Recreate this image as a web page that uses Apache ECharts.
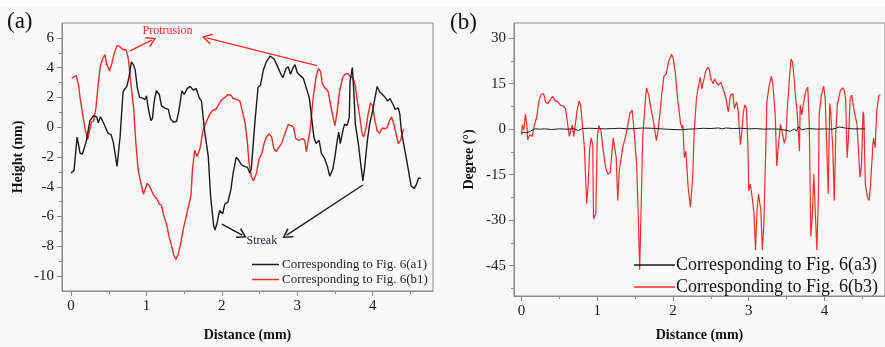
<!DOCTYPE html>
<html>
<head>
<meta charset="utf-8">
<script src="https://cdn.jsdelivr.net/npm/echarts@6/dist/echarts.min.js"></script>
<style>
  html, body { margin: 0; padding: 0; }
  body { width: 885px; height: 347px; background: linear-gradient(#ffffff 0 7px, #f8f8f8 7px); }
  #chart { width: 885px; height: 347px; }
</style>
</head>
<body>
<div id="chart"></div>
<script>
// Height profiles (distance in mm, height in nm)
const heightA1 = [
  [0.00,-3.07],[0.04,-2.9],[0.08,-0.66],[0.10,-1.2],[0.12,-1.75],[0.15,-1.8],[0.20,-1.0],[0.25,0.44],
  [0.30,0.77],[0.34,0.7],[0.36,0.3],[0.39,0.7],[0.43,0.3],[0.49,-0.4],[0.53,-0.5],[0.56,-1.0],
  [0.61,-2.63],[0.65,-0.66],[0.69,2.4],[0.74,2.74],[0.77,3.4],[0.80,4.39],[0.83,4.17],[0.85,3.85],
  [0.88,2.6],[0.91,2.0],[0.95,1.95],[0.98,1.86],[1.00,2.1],[1.03,1.1],[1.06,0.44],[1.08,0.6],
  [1.10,1.64],[1.13,2.45],[1.17,2.2],[1.20,1.43],[1.25,1.27],[1.29,1.2],[1.32,0.55],[1.36,0.33],
  [1.40,0.4],[1.43,1.1],[1.47,2.45],[1.50,2.2],[1.54,2.59],[1.58,2.74],[1.62,2.5],[1.66,2.6],
  [1.70,1.97],[1.73,1.75],[1.77,-0.22],[1.82,-1.97],[1.85,-4.6],[1.89,-6.58],[1.91,-6.9],[1.94,-6.36],
  [1.97,-5.6],[2.01,-5.81],[2.04,-5.15],[2.08,-5.04],[2.12,-4.17],[2.15,-3.07],[2.19,-2.02],[2.22,-2.19],
  [2.26,-2.52],[2.30,-2.63],[2.34,-2.7],[2.37,-3.07],[2.39,-2.8],[2.44,0.44],[2.48,2.68],[2.51,2.8],
  [2.55,3.84],[2.59,4.39],[2.64,4.78],[2.69,4.6],[2.73,4.17],[2.78,3.6],[2.81,3.33],[2.85,3.95],
  [2.88,4.06],[2.91,3.55],[2.94,3.95],[2.97,4.2],[3.00,3.68],[3.03,3.5],[3.08,3.29],[3.11,2.8],
  [3.16,1.97],[3.19,0.66],[3.22,-0.66],[3.25,-1.1],[3.29,-0.88],[3.32,-1.75],[3.36,-2.08],[3.40,-2.63],
  [3.43,-3.29],[3.47,-2.85],[3.50,-1.97],[3.53,-0.88],[3.55,-0.33],[3.57,-1.1],[3.61,-0.11],[3.63,0.22],
  [3.66,0.11],[3.69,0.66],[3.70,3.07],[3.73,4.0],[3.75,2.4],[3.77,0.22],[3.81,-1.1],[3.84,-2.4],
  [3.87,-3.6],[3.89,-2.85],[3.93,-0.88],[3.96,0.22],[4.00,1.1],[4.03,1.97],[4.06,2.74],[4.09,2.4],
  [4.13,2.2],[4.17,1.97],[4.20,1.75],[4.23,1.93],[4.27,1.53],[4.30,1.2],[4.34,1.3],[4.36,0.88],
  [4.38,-0.22],[4.41,-1.1],[4.45,-2.19],[4.48,-3.07],[4.51,-3.95],[4.55,-4.12],[4.58,-3.84],[4.61,-3.4],
  [4.64,-3.45]
];

const heightB1 = [
  [0.01,3.29],[0.04,3.4],[0.07,3.46],[0.10,2.8],[0.12,1.97],[0.16,0.66],[0.19,-0.22],[0.22,-0.83],
  [0.24,-0.33],[0.27,0.33],[0.30,0.44],[0.33,1.3],[0.36,2.85],[0.39,4.17],[0.42,4.6],[0.45,4.87],
  [0.47,4.28],[0.51,3.77],[0.54,4.28],[0.57,4.93],[0.61,5.48],[0.64,5.44],[0.67,5.3],[0.70,5.2],
  [0.73,5.2],[0.76,4.6],[0.79,3.07],[0.83,1.3],[0.86,-1.1],[0.89,-2.85],[0.92,-3.6],[0.96,-4.5],
  [0.98,-4.5],[1.01,-3.77],[1.04,-3.95],[1.07,-4.28],[1.10,-4.6],[1.14,-4.82],[1.17,-5.15],[1.20,-5.26],
  [1.23,-5.92],[1.27,-6.58],[1.30,-7.35],[1.33,-7.9],[1.36,-8.55],[1.39,-8.88],[1.42,-8.55],[1.45,-7.9],
  [1.49,-6.8],[1.52,-6.14],[1.55,-5.48],[1.59,-4.6],[1.61,-2.85],[1.64,-1.54],[1.67,-1.97],[1.71,-1.43],
  [1.75,-0.22],[1.80,0.44],[1.84,0.88],[1.88,1.14],[1.92,1.2],[1.96,1.53],[2.00,1.86],[2.04,2.0],
  [2.08,2.19],[2.12,2.15],[2.15,1.93],[2.20,1.86],[2.24,1.75],[2.27,1.1],[2.31,0.22],[2.34,-1.1],
  [2.36,-2.41],[2.39,-3.29],[2.42,-3.6],[2.46,-3.07],[2.49,-2.19],[2.53,-1.75],[2.56,-1.1],[2.59,-0.66],
  [2.63,-0.44],[2.66,-0.66],[2.69,-1.43],[2.72,-1.64],[2.76,-1.32],[2.79,-1.1],[2.82,-0.66],[2.86,-0.11],
  [2.88,0.18],[2.92,0.11],[2.95,0.0],[2.98,-0.77],[3.02,-0.88],[3.07,-0.77],[3.10,-0.88],[3.12,-1.64],
  [3.14,-1.55],[3.17,-0.22],[3.21,1.97],[3.25,3.4],[3.28,3.95],[3.31,3.73],[3.33,2.96],[3.36,2.68],
  [3.41,2.4],[3.44,1.53],[3.48,0.55],[3.50,0.11],[3.53,1.1],[3.56,2.4],[3.60,3.29],[3.63,3.55],
  [3.67,3.6],[3.70,3.4],[3.74,3.29],[3.77,2.8],[3.79,1.97],[3.83,0.66],[3.86,-0.44],[3.88,-0.66],
  [3.91,-0.11],[3.94,0.88],[3.97,1.64],[4.00,1.43],[4.03,0.44],[4.06,-0.22],[4.09,-0.4],[4.13,-0.05],
  [4.16,-0.11],[4.19,-0.05],[4.22,0.4],[4.25,0.7],[4.28,0.22],[4.31,-0.44],[4.34,-1.1],[4.37,-0.88],
  [4.39,-0.88],[4.41,-0.11]
];

// Inclination profiles (distance in mm, degree)
const degreeA3 = [
  [0.00,-1.3],[0.03,-1.0],[0.06,-1.2],[0.10,-0.9],[0.14,-0.3],[0.18,0.1],[0.25,0.0],[0.30,0.1],
  [0.40,-0.1],[0.50,0.1],[0.60,0.0],[0.70,0.1],[0.75,-0.5],[0.80,0.2],[0.90,0.3],[1.00,0.2],
  [1.10,0.1],[1.20,0.2],[1.30,0.3],[1.40,0.1],[1.50,0.2],[1.60,0.4],[1.70,0.3],[1.80,0.2],
  [1.90,0.0],[2.00,-0.1],[2.10,-0.2],[2.20,0.0],[2.30,0.1],[2.40,0.3],[2.50,0.2],[2.60,0.4],
  [2.65,0.1],[2.70,0.4],[2.80,0.2],[2.90,0.3],[3.00,0.1],[3.10,0.2],[3.20,0.0],[3.30,0.1],
  [3.40,0.0],[3.50,-0.4],[3.55,-0.7],[3.60,0.1],[3.63,-0.6],[3.66,0.8],[3.70,-0.3],[3.75,0.1],
  [3.80,0.2],[3.90,0.0],[4.00,0.1],[4.10,0.0],[4.15,0.3],[4.20,0.7],[4.25,0.5],[4.30,0.2],
  [4.40,0.1],[4.54,0.1]
];

const degreeB3 = [
  [0.00,-1.8],[0.01,1.4],[0.03,-0.2],[0.05,4.9],[0.07,1.4],[0.08,-3.5],[0.11,-1.8],[0.14,-2.4],
  [0.17,1.4],[0.20,4.1],[0.23,9.5],[0.26,11.5],[0.29,11.7],[0.32,8.8],[0.35,8.5],[0.39,10.1],
  [0.41,10.8],[0.44,9.5],[0.48,9.0],[0.51,7.9],[0.55,7.7],[0.58,6.8],[0.61,1.4],[0.63,-2.4],
  [0.65,-2.4],[0.67,1.4],[0.69,-2.4],[0.71,1.4],[0.73,5.7],[0.76,9.3],[0.78,7.9],[0.80,2.5],
  [0.83,-6.2],[0.86,-24.6],[0.88,-18.1],[0.90,-6.2],[0.92,-2.9],[0.94,-5.1],[0.95,-29.5],[0.98,-27.9],
  [1.00,-2.9],[1.02,1.2],[1.05,-0.8],[1.08,-7.3],[1.11,-12.7],[1.14,-14.9],[1.17,-14.3],[1.21,-2.9],
  [1.23,-2.9],[1.25,-9.4],[1.27,-23.5],[1.29,-13.8],[1.31,-13.2],[1.34,-5.6],[1.38,-1.8],[1.43,5.2],
  [1.46,6.3],[1.48,1.4],[1.52,-11.6],[1.54,-27.9],[1.56,-46.3],[1.58,-24.6],[1.60,-2.9],[1.63,7.9],
  [1.65,13.6],[1.68,11.2],[1.70,8.1],[1.72,7.9],[1.75,1.4],[1.78,-3.8],[1.80,-0.8],[1.83,5.7],
  [1.85,11.2],[1.88,17.5],[1.91,18.2],[1.94,22.0],[1.98,24.7],[2.00,23.6],[2.03,18.8],[2.06,10.1],
  [2.10,2.0],[2.12,0.3],[2.13,1.4],[2.15,-9.4],[2.17,-7.3],[2.20,-19.2],[2.23,-25.7],[2.26,-15.9],
  [2.28,-0.8],[2.31,10.1],[2.33,13.3],[2.36,17.1],[2.38,13.3],[2.41,16.6],[2.43,19.0],[2.46,20.4],
  [2.48,19.6],[2.50,16.6],[2.53,15.0],[2.55,16.6],[2.57,15.5],[2.60,14.4],[2.63,15.5],[2.67,12.8],
  [2.70,10.1],[2.73,5.7],[2.76,11.2],[2.79,11.7],[2.81,6.8],[2.84,9.0],[2.86,6.3],[2.89,-5.1],
  [2.91,-0.8],[2.93,5.7],[2.95,8.1],[2.97,6.8],[2.99,-6.2],[3.00,-20.3],[3.02,-18.1],[3.04,-21.4],
  [3.07,-27.9],[3.09,-39.8],[3.11,-26.8],[3.13,-21.4],[3.14,-20.8],[3.16,-26.8],[3.18,-39.8],[3.20,-31.1],
  [3.22,-11.6],[3.24,9.0],[3.27,14.4],[3.30,17.5],[3.32,14.4],[3.35,4.7],[3.37,-12.1],[3.39,-6.2],
  [3.42,1.6],[3.44,-0.8],[3.47,-4.6],[3.49,-2.9],[3.51,6.8],[3.54,17.7],[3.56,23.1],[3.58,22.0],
  [3.60,16.6],[3.62,10.1],[3.64,5.7],[3.67,-7.3],[3.68,7.9],[3.70,4.7],[3.72,7.9],[3.75,12.2],
  [3.78,13.9],[3.80,1.4],[3.82,-35.4],[3.84,-28.9],[3.86,-14.9],[3.87,-21.4],[3.90,-39.8],[3.92,-22.5],
  [3.93,4.7],[3.96,11.2],[3.99,14.2],[4.01,10.1],[4.03,-5.1],[4.05,-21.4],[4.07,8.5],[4.08,6.8],
  [4.11,-6.2],[4.13,-23.5],[4.15,-0.8],[4.17,7.9],[4.21,12.8],[4.24,13.6],[4.26,12.8],[4.28,10.1],
  [4.30,-9.4],[4.32,-1.8],[4.34,10.1],[4.36,11.2],[4.38,7.9],[4.40,8.1],[4.43,1.4],[4.45,-7.3],
  [4.47,-15.9],[4.49,-11.6],[4.51,5.7],[4.52,4.7],[4.54,-18.1],[4.57,-22.5],[4.59,-23.5],[4.61,-18.1],
  [4.64,-5.1],[4.65,-2.9],[4.67,-6.2],[4.69,5.7],[4.72,11.2],[4.74,11.4]
];

// Tick positions
const distTicks = [0, 1, 2, 3, 4];
const distMinorTicks = [0.5, 1.5, 2.5, 3.5, 4.5];
const heightTicks = [-10, -8, -6, -4, -2, 0, 2, 4, 6];
const heightMinorTicks = [-9, -7, -5, -3, -1, 1, 3, 5];
const degreeTicks = [-45, -30, -15, 0, 15, 30];
const degreeMinorTicks = [-52.5, -37.5, -22.5, -7.5, 7.5, 22.5];

// Annotation arrows and labels, in data units of panel (a)
const protrusionArrows = [[[0.78, 5.13], [1.07, 5.85]], [[3.26, 4.14], [1.80, 6.0]]];
const streakArrows = [[[2.00, -6.51], [2.27, -7.25]], [[3.87, -3.88], [2.86, -7.25]]];
const protrusionLabel = [1.28, 6.45];
const streakLabel = [2.53, -7.63];

const SERIF = "'Liberation Serif', 'Times New Roman', serif";
const AXIS_GRAY = '#8a8a8a';
const RED = '#ff2a2a';
const BLACK = '#1a1a1a';
const OPEN_ARROW = 'path://M5,0 L10,8.5 L8.8,9.3 L5,2.6 L1.2,9.3 L0,8.5 Z';

function majorAxis(dim, gridIndex, min, max, ticks, extra) {
  return Object.assign({
    type: 'value', gridIndex, min, max,
    position: dim === 'x' ? 'bottom' : 'left',
    axisLine: { show: true, onZero: false, lineStyle: { color: AXIS_GRAY, width: 1 } },
    axisTick: { show: true, customValues: ticks, length: 5, lineStyle: { color: AXIS_GRAY } },
    axisLabel: { customValues: ticks, color: '#1a1a1a', fontFamily: SERIF, fontSize: 15, margin: 8 },
    splitLine: { show: false },
    nameLocation: 'middle',
    nameTextStyle: { fontFamily: SERIF, fontWeight: 'bold', fontSize: 14, color: '#111' }
  }, extra || {});
}
function minorAxis(dim, gridIndex, min, max, ticks) {
  return {
    type: 'value', gridIndex, min, max,
    position: dim === 'x' ? 'bottom' : 'left',
    axisLine: { show: false, onZero: false },
    axisTick: { show: true, customValues: ticks, length: 3, lineStyle: { color: AXIS_GRAY } },
    axisLabel: { show: false },
    splitLine: { show: false }
  };
}
function arrowLines(pairs) {
  return pairs.map(p => [{ coord: p[0] }, { coord: p[1] }]);
}

const chart = echarts.init(document.getElementById('chart'));
chart.setOption({
  animation: false,
  backgroundColor: 'transparent',
  title: [
    { text: '(a)', left: 7, top: 10, padding: 0,
      textStyle: { fontFamily: SERIF, fontSize: 23, fontWeight: 'normal', color: '#111' } },
    { text: '(b)', left: 450, top: 11, padding: 0,
      textStyle: { fontFamily: SERIF, fontSize: 23, fontWeight: 'normal', color: '#111' } }
  ],
  grid: [
    { left: 62, top: 23, width: 371, height: 274, show: true, borderColor: AXIS_GRAY, borderWidth: 1, backgroundColor: 'transparent' },
    { left: 514, top: 23, width: 372, height: 277, show: true, borderColor: AXIS_GRAY, borderWidth: 1, backgroundColor: 'transparent' }
  ],
  xAxis: [
    majorAxis('x', 0, -0.12, 4.8, distTicks, { name: 'Distance (mm)', nameGap: 37 }),
    minorAxis('x', 0, -0.12, 4.8, distMinorTicks),
    majorAxis('x', 1, -0.1, 4.8, distTicks, { name: 'Distance (mm)', nameGap: 32 }),
    minorAxis('x', 1, -0.1, 4.8, distMinorTicks)
  ],
  yAxis: [
    majorAxis('y', 0, -11, 7, heightTicks, { name: 'Height (nm)', nameGap: 37 }),
    minorAxis('y', 0, -11, 7, heightMinorTicks),
    majorAxis('y', 1, -55, 35, degreeTicks, { name: 'Degree (°)', nameGap: 38 }),
    minorAxis('y', 1, -55, 35, degreeMinorTicks)
  ],
  legend: [
    { orient: 'vertical', left: 252, top: 258, padding: 0, itemGap: 2,
      icon: 'rect', itemWidth: 27, itemHeight: 1.5, selectedMode: false,
      textStyle: { fontFamily: SERIF, fontSize: 13, color: '#222', padding: [0, 0, 0, -2] },
      data: ['Corresponding to Fig. 6(a1)', 'Corresponding to Fig. 6(b1)'] },
    { orient: 'vertical', left: 634, top: 256, padding: 0, itemGap: 4,
      icon: 'rect', itemWidth: 41, itemHeight: 1.3, selectedMode: false,
      textStyle: { fontFamily: SERIF, fontSize: 18, color: '#111', padding: [0, 0, 0, -4] },
      data: ['Corresponding to Fig. 6(a3)', 'Corresponding to Fig. 6(b3)'] }
  ],
  series: [
    { name: 'Corresponding to Fig. 6(a1)', type: 'line', xAxisIndex: 0, yAxisIndex: 0,
      data: heightA1, showSymbol: false, color: BLACK, lineStyle: { width: 1.4, color: BLACK }, z: 3,
      markLine: { silent: true, symbol: ['none', OPEN_ARROW], symbolSize: [11, 10],
        lineStyle: { color: BLACK, width: 1.4, type: 'solid' }, label: { show: false },
        data: arrowLines(streakArrows) },
      markPoint: { silent: true, symbolSize: 0,
        label: { show: true, position: 'inside', formatter: 'Streak', fontFamily: SERIF, fontSize: 12, color: '#1e1e30' },
        data: [{ coord: streakLabel }] } },
    { name: 'Corresponding to Fig. 6(b1)', type: 'line', xAxisIndex: 0, yAxisIndex: 0,
      data: heightB1, showSymbol: false, color: RED, lineStyle: { width: 1.4, color: RED }, z: 2,
      markLine: { silent: true, symbol: ['none', OPEN_ARROW], symbolSize: [11, 10],
        lineStyle: { color: RED, width: 1.4, type: 'solid' }, label: { show: false },
        data: arrowLines(protrusionArrows) },
      markPoint: { silent: true, symbolSize: 0,
        label: { show: true, position: 'inside', formatter: 'Protrusion', fontFamily: SERIF, fontSize: 12, color: RED },
        data: [{ coord: protrusionLabel }] } },
    { name: 'Corresponding to Fig. 6(a3)', type: 'line', xAxisIndex: 2, yAxisIndex: 2,
      data: degreeA3, showSymbol: false, color: BLACK, lineStyle: { width: 1, color: BLACK }, z: 3 },
    { name: 'Corresponding to Fig. 6(b3)', type: 'line', xAxisIndex: 2, yAxisIndex: 2,
      data: degreeB3, showSymbol: false, color: RED, lineStyle: { width: 1.2, color: RED }, z: 2 }
  ]
});
</script>
</body>
</html>
